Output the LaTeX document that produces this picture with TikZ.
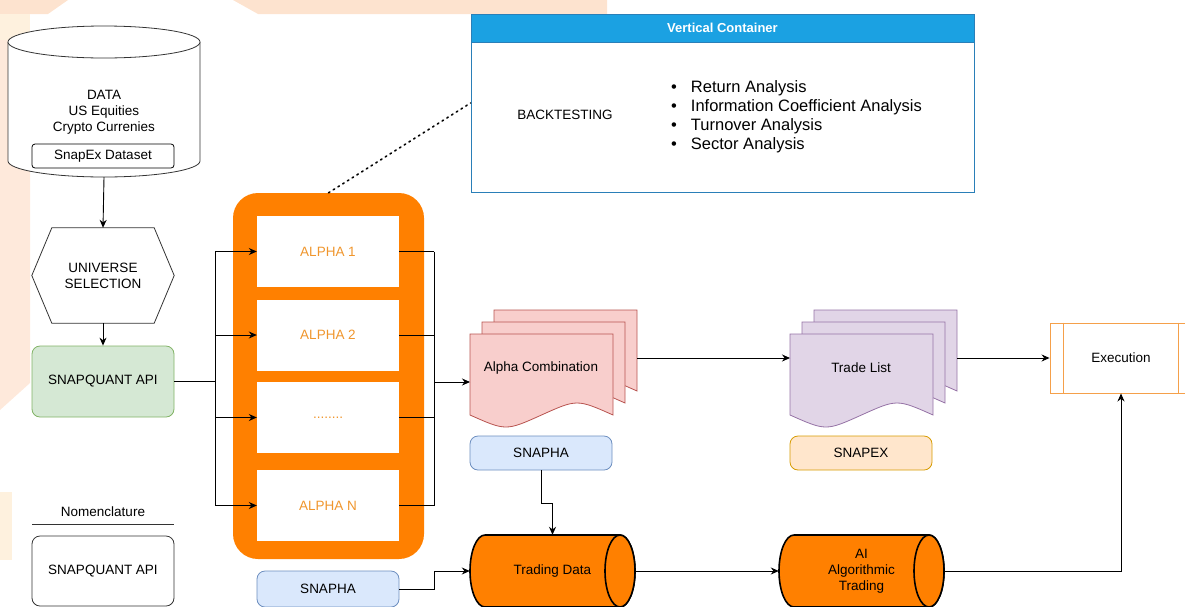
\documentclass[tikz,border=0pt]{standalone}
\usepackage{fontspec}
\setmainfont{Liberation Sans}
\usetikzlibrary{arrows.meta}
\definecolor{alphaorange}{HTML}{FF8000}
\definecolor{alphatext}{HTML}{F0962D}
\definecolor{apifill}{HTML}{D5E8D4}
\definecolor{apidraw}{HTML}{82B366}
\definecolor{snaphafill}{HTML}{DAE8FC}
\definecolor{snaphadraw}{HTML}{6C8EBF}
\definecolor{snapexfill}{HTML}{FFE6CC}
\definecolor{snapexdraw}{HTML}{D79B00}
\definecolor{combfill}{HTML}{F8CECC}
\definecolor{combdraw}{HTML}{B85450}
\definecolor{tradefill}{HTML}{E1D5E7}
\definecolor{tradedraw}{HTML}{9673A6}
\definecolor{headerfill}{HTML}{1BA1E2}
\definecolor{headerdraw}{HTML}{2A7FB8}
\definecolor{execdraw}{HTML}{F5A04A}
\definecolor{peach}{HTML}{FDE3CF}
\definecolor{lightpeach}{HTML}{FEE9DB}
\definecolor{pale}{HTML}{FEF1DE}
\definecolor{linegray}{HTML}{333333}
\begin{document}
\begin{tikzpicture}
[x=1pt,y=-1pt,
  textdecorate/.style={font=\fontsize{13.5}{16}\selectfont},
  boxdecorate/.style={shape=rectangle,draw,rounded corners=8pt,minimum width=142pt,line width=0.8pt,textdecorate},
  alphadecorate/.style={shape=rectangle,fill=white,minimum width=142pt,minimum height=71pt,text=alphatext,textdecorate},
  tankdecorate/.style={fill=alphaorange,draw=black,line width=1.6pt},
  arrowdecorate/.style={-{Stealth[length=8pt,width=7pt]},line width=0.9pt},
  linedecorate/.style={line width=0.9pt}]
\useasboundingbox (0,0) rectangle (1185,606);
%% background
\fill[peach] (0,0) -- (68,0) -- (48,14) -- (0,14) -- cycle;
\fill[peach] (233,0) -- (607,0) -- (607,14) -- (258,14) -- cycle;
\fill[pale] (0,14) rectangle (30,40);
\fill[lightpeach] (0,40) -- (30,40) -- (30,383) -- (0,410) -- cycle;
\fill[pale] (0,492) rectangle (12,560);
%% data and universe
\draw[linegray,fill=white,line width=0.8pt] (8,42) -- (8,161) arc[start angle=180,end angle=0,x radius=96,y radius=16] -- (200,42);
\draw[linegray,fill=white,line width=0.8pt] (104,42) ellipse[x radius=96,y radius=16];
\node (data) at (104,101.5) [shape=rectangle,minimum width=192pt,minimum height=151pt] {};
\node (datatext) at (104,112) [textdecorate,align=center] {DATA\\US Equities\\Crypto Currenies};
\node (snapexdata) at (103,156) [boxdecorate,rounded corners=3pt,minimum height=24pt] {SnapEx Dataset};
\node (universe) at (103,275.5) [shape=rectangle,minimum width=142pt,minimum height=95pt,textdecorate,align=center] {UNIVERSE\\SELECTION};
\draw[linegray,line width=0.8pt] (universe.west) -- ([xshift=20pt]universe.north west) -- ([xshift=-20pt]universe.north east)
  -- (universe.east) -- ([xshift=-20pt]universe.south east) -- ([xshift=20pt]universe.south west) -- cycle;
\node (snapquant) at (103,381.5) [boxdecorate,draw=apidraw,fill=apifill,minimum height=71pt] {SNAPQUANT API};
%% nomenclature
\node (nomen) at (103,512) [textdecorate] {Nomenclature};
\draw[linegray,line width=0.9pt] (32,524) -- (174,524);
\node (nomenapi) at (103,571) [boxdecorate,draw=linegray,minimum height=70pt] {SNAPQUANT API};
%% alpha container
\node (alphacontainer) at (328.5,376) [shape=rectangle,fill=alphaorange,rounded corners=25pt,minimum width=191pt,minimum height=366pt] {};
\foreach \name/\label/\y in {alphaone/ALPHA 1/251.5, alphatwo/ALPHA 2/335, alphadots/{........}/417.5, alphan/ALPHA N/505.5}
{
  \node (\name) at (328,\y) [alphadecorate] {\label};
}
\node (snaphab) at (328,589) [boxdecorate,draw=snaphadraw,fill=snaphafill,minimum height=36pt] {SNAPHA};
%% documents
\foreach \docx/\docfill/\docdraw in {470/combfill/combdraw, 790/tradefill/tradedraw}
  \foreach \off in {24,12,0}
    \draw[fill=\docfill,draw=\docdraw,line width=0.8pt] (\docx+\off,334-\off) -- ++(143,0) -- ++(0,81)
      .. controls (\docx+\off+107,399-\off) .. (\docx+\off+71.5,415-\off)
      .. controls (\docx+\off+36,431-\off) .. (\docx+\off,415-\off) -- cycle;
\node (alphacomb) at (541,368) [textdecorate] {Alpha Combination};
\node (tradelist) at (861,368) [textdecorate] {Trade List};
\coordinate (acin) at (470,382);
\coordinate (acout) at (637,358);
\coordinate (tlin) at (790,358);
\coordinate (tlout) at (957,358);
\node (snapha) at (541,453) [boxdecorate,draw=snaphadraw,fill=snaphafill,minimum height=34pt] {SNAPHA};
\node (snapex) at (861,453) [boxdecorate,draw=snapexdraw,fill=snapexfill,minimum height=34pt] {SNAPEX};
%% tanks and execution
\foreach \name/\cx/\label in {tradingdata/552.5/Trading Data, aialgo/861.5/{AI\\Algorithmic\\Trading}}
{
  \draw[tankdecorate] (\cx+67.5,535) -- (\cx-67.5,535) arc[start angle=270,end angle=90,x radius=15,y radius=36]
    -- (\cx+67.5,607) arc[start angle=90,end angle=-90,x radius=15,y radius=36];
  \draw[tankdecorate] (\cx+67.5,571) ellipse[x radius=15,y radius=36];
  \node (\name) at (\cx,571) [shape=rectangle,minimum width=165pt,minimum height=72pt,inner sep=0pt,textdecorate,align=center] {\label};
}
\node (execution) at (1121,358) [shape=rectangle,draw=execdraw,line width=0.9pt,minimum width=142pt,minimum height=70pt,textdecorate] {Execution};
\draw[execdraw,line width=0.9pt] ([xshift=14pt]execution.north west) -- ([xshift=14pt]execution.south west);
\draw[execdraw,line width=0.9pt] ([xshift=-14pt]execution.north east) -- ([xshift=-14pt]execution.south east);
%% vertical container
\node (container) at (722.5,103) [shape=rectangle,draw=headerdraw,line width=0.9pt,minimum width=503pt,minimum height=178pt] {};
\node (header) at (container.north) [anchor=north,shape=rectangle,fill=headerfill,draw=headerdraw,line width=0.9pt,minimum width=503pt,minimum height=28pt,text=white,font=\fontsize{13}{15}\selectfont\bfseries] {Vertical Container};
\node (backtest) at (565,115) [textdecorate] {BACKTESTING};
\foreach \name/\label/\y in {itemone/Return Analysis/88, itemtwo/Information Coefficient Analysis/107, itemthree/Turnover Analysis/126, itemfour/Sector Analysis/145}
{
  \node (\name) at (671,\y) [anchor=west,inner sep=0pt,font=\fontsize{16.5}{19}\selectfont] {\textbullet\hspace{14pt}\label};
}
\draw[loosely dotted,line width=1.6pt,line cap=round] (alphacontainer.north) -- (container.west);
%% edges or lines
\draw[arrowdecorate] (data.south) -- (universe.north);
\draw[arrowdecorate] (universe.south) -- (snapquant.north);
\coordinate (lbus) at (215,381.5);
\coordinate (rbus) at (434,382);
\draw[linedecorate] (snapquant.east) -- (lbus);
\draw[linedecorate] (lbus |- alphaone.west) -- (lbus |- alphan.west);
\draw[linedecorate] (rbus |- alphaone.east) -- (rbus |- alphan.east);
\foreach \name in {alphaone, alphatwo, alphadots, alphan}
{
  \draw[arrowdecorate] (lbus |- \name.west) -- (\name.west);
  \draw[linedecorate] (\name.east) -- (rbus |- \name.east);
}
\draw[arrowdecorate] (rbus) -- (acin);
\draw[arrowdecorate] (acout) -- (tlin);
\draw[arrowdecorate] (tlout) -- (execution.west);
\draw[arrowdecorate] (snapha.south) -- ++(0,33) -| (tradingdata.north);
\draw[arrowdecorate] (snaphab.east) -- (rbus |- snaphab.east) |- (tradingdata.west);
\draw[arrowdecorate] (tradingdata.east) -- (aialgo.west);
\draw[arrowdecorate] (aialgo.east) -| (execution.south);
\end{tikzpicture}
\end{document}
